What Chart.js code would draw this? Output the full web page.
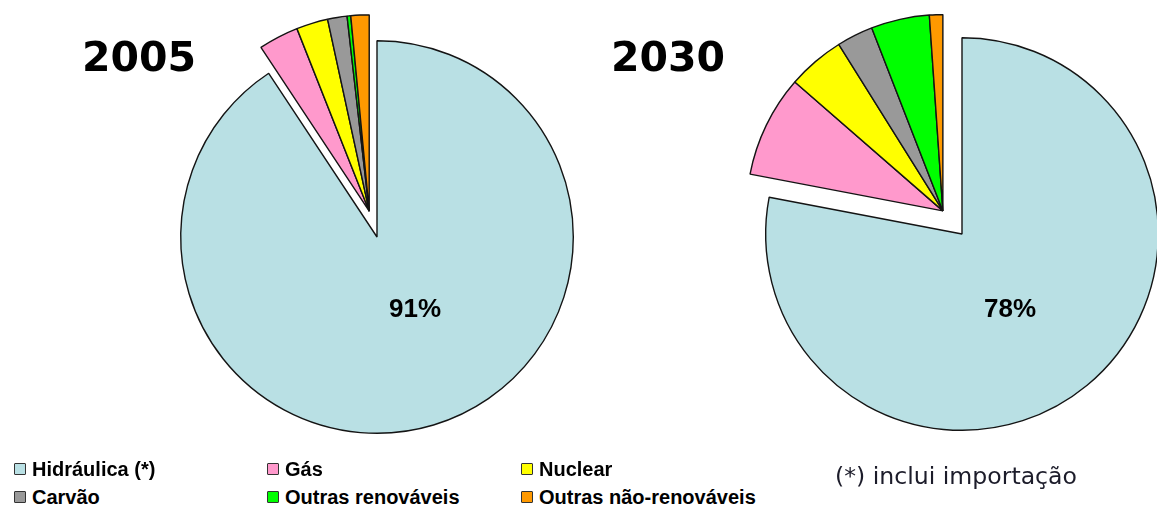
<!DOCTYPE html>
<html><head><meta charset="utf-8">
<script src="https://cdn.jsdelivr.net/npm/chart.js@4"></script>
<style>
html,body{margin:0;padding:0;background:#fff;width:1157px;height:509px;overflow:hidden;position:relative;}
.t{position:absolute;white-space:nowrap;line-height:1;z-index:2;}
.title{font-family:"DejaVu Sans";font-weight:bold;font-size:41px;color:#000;}
.pct{font-family:"Liberation Sans";font-weight:bold;font-size:26px;color:#000;transform:translate(-50%,-50%);}
.cv{position:absolute;z-index:1;}
.leg{position:absolute;height:24px;font-family:"Liberation Sans";font-weight:bold;font-size:20px;color:#000;display:flex;align-items:center;white-space:nowrap;z-index:2;}
.sw{width:10px;height:10px;border:1.5px solid #333;margin-right:6px;box-sizing:content-box;border-radius:1px;}
.note{font-family:"DejaVu Sans";font-size:23.6px;color:#1c1c2a;}
</style>
</head><body>
<div class="t title" style="left:82px;top:37px;">2005</div>
<div class="t title" style="left:611px;top:37px;">2030</div>
<canvas id="c1" class="cv" width="460" height="470" style="left:147px;top:0px;width:460px;height:470px;"></canvas>
<canvas id="c2" class="cv" width="520" height="470" style="left:702px;top:0px;width:520px;height:470px;"></canvas>
<div id="p1" class="t pct" style="left:415px;top:308px;"></div>
<div id="p2" class="t pct" style="left:1010px;top:308px;"></div>
<div id="legend"></div>
<div class="t note" style="left:835px;top:465px;">(*) inclui importação</div>
<script>
const categories = ['Hidráulica (*)','Gás','Nuclear','Carvão','Outras renováveis','Outras não-renováveis'];
const share2005 = [90.7, 3.3, 2.6, 1.6, 0.3, 1.5];
const share2030 = [78.0, 8.4, 4.7, 3.0, 4.8, 1.1];
const colors = ['#b9e0e4','#ff99cc','#ffff00','#999999','#00ff00','#ff9900'];
const legendOrder = [[0,1,2],[3,4,5]];

const explodePlugin = {
  id: 'explode',
  afterDatasetsUpdate(chart, args, opts) {
    const meta = chart.getDatasetMeta(0);
    const arcs = meta.data.slice(1);
    const mid = (arcs[0].startAngle + arcs[arcs.length - 1].endAngle) / 2;
    const dx = Math.cos(mid) * opts.distance, dy = Math.sin(mid) * opts.distance;
    arcs.forEach(a => { a.x += dx; a.y += dy; });
  }
};

function makePie(id, values, padding, distance) {
  return new Chart(document.getElementById(id), {
    type: 'pie',
    data: { labels: categories, datasets: [{ data: values, backgroundColor: colors, borderColor: '#141414', borderWidth: 1.4 }] },
    options: {
      responsive: false, animation: false, events: [],
      layout: { padding: padding },
      plugins: { legend: { display: false }, tooltip: { enabled: false }, explode: { distance: distance } }
    },
    plugins: [explodePlugin]
  });
}
makePie('c1', share2005, {left:33, right:33, top:40, bottom:36}, 27);
makePie('c2', share2030, {left:63, right:63, top:37, bottom:39}, 30);

document.getElementById('p1').textContent = Math.round(share2005[0]) + '%';
document.getElementById('p2').textContent = Math.round(share2030[0]) + '%';

const colX = [14, 267, 521];
const rowY = [457, 485];
const lg = document.getElementById('legend');
legendOrder.forEach((row, r) => row.forEach((idx, c) => {
  const d = document.createElement('div');
  d.className = 'leg';
  d.style.left = colX[c] + 'px';
  d.style.top = rowY[r] + 'px';
  const sw = document.createElement('span');
  sw.className = 'sw';
  sw.style.background = colors[idx];
  d.appendChild(sw);
  d.appendChild(document.createTextNode(categories[idx]));
  lg.appendChild(d);
}));
</script>
</body></html>
